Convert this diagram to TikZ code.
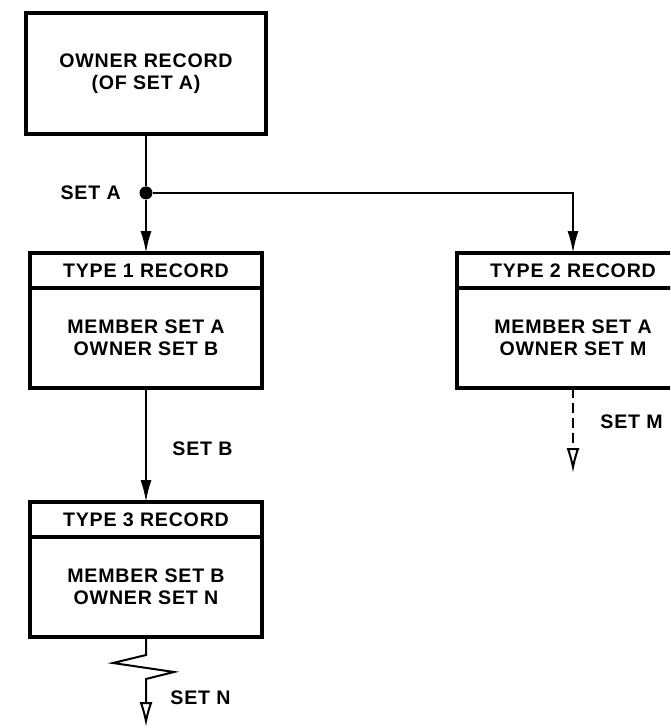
\documentclass[tikz,border=0pt]{standalone}
\usepackage{fontspec}
\setmainfont{Liberation Sans}
\newfontfamily\recfont[LetterSpace=4]{Liberation Sans}
\usetikzlibrary{positioning,arrows.meta}

\begin{document}
\begin{tikzpicture}[
    x=0.5pt, y=-0.5pt,
    % Styles
    box/.style={
        draw,
        line width=1.8pt,
        outer sep=0pt,
        align=center,
        font=\recfont\fontsize{9.8}{11}\selectfont\bfseries,
        inner sep=2pt
    },
    ownerbox/.style={box, minimum width=120pt, minimum height=60.5pt},
    rechead/.style={box, minimum width=116pt, minimum height=17.5pt},
    recbody/.style={box, minimum width=116pt, minimum height=50pt},
    junction/.style={circle, fill, inner sep=0pt, minimum size=6.5pt},
    setlabel/.style={font=\recfont\fontsize{9.8}{11}\selectfont\bfseries, inner sep=0pt},
    link/.style={line width=1pt},
    arrow/.style={link, -{Latex[length=11pt,width=5.5pt]}},
    openarrow/.style={link, -{Latex[open,length=12.5pt,width=6.5pt]}}
]
    \useasboundingbox (0,0) rectangle (670,728);
    \clip (0,0) rectangle (670,728);

    % ---------------------------------------------------------
    % 1. TOP: OWNER RECORD
    % ---------------------------------------------------------
    \node[ownerbox] (owner) at (146,73.5) {OWNER RECORD\\(OF SET A)};
    \node[junction, below=26pt of owner] (split) {};

    % ---------------------------------------------------------
    % 2. MIDDLE: TYPE 1 AND TYPE 2 RECORDS
    % ---------------------------------------------------------
    \node[rechead, below=59.5pt of owner] (type1h) {TYPE 1 RECORD};
    \node[recbody, below=0pt of type1h] (type1) {MEMBER SET A\\OWNER SET B};

    \node[rechead, right=97.5pt of type1h] (type2h) {TYPE 2 RECORD};
    \node[recbody, below=0pt of type2h] (type2) {MEMBER SET A\\OWNER SET M};
    \coordinate[below=42.5pt of type2] (mEnd);

    % ---------------------------------------------------------
    % 3. BOTTOM: TYPE 3 RECORD
    % ---------------------------------------------------------
    \node[rechead, below=57pt of type1] (type3h) {TYPE 3 RECORD};
    \node[recbody, below=0pt of type3h] (type3) {MEMBER SET B\\OWNER SET N};
    \coordinate[below=45pt of type3] (nEnd);

    % ---------------------------------------------------------
    % CONNECTIONS
    % ---------------------------------------------------------
    \draw[link] (owner.south) -- (split);
    \draw[arrow] (split) -- (type1h.north);
    \draw[arrow] (split) -| (type2h.north);
    \draw[arrow] (type1.south) -- (type3h.north);
    \draw[openarrow, dash pattern=on 5pt off 2.5pt] (type2.south) -- (mEnd);
    % Broken line towards set N
    \draw[openarrow] (type3.south) -- ++(0,18) -- ++(-33,8) -- ++(61,9)
        -- ++(-28,7) -- (nEnd);

    % Set labels
    \node[setlabel, left=9pt of split] (labA) {SET A};
    \path (type1.south) -- (type3h.north) node[setlabel, pos=0.53, right=13pt] (labB) {SET B};
    \path (type2.south) -- (mEnd) node[setlabel, pos=0.4, right=13.5pt] (labM) {SET M};
    \path (type3.south) -- (nEnd) node[setlabel, pos=0.67, right=12pt] (labN) {SET N};

\end{tikzpicture}
\end{document}
